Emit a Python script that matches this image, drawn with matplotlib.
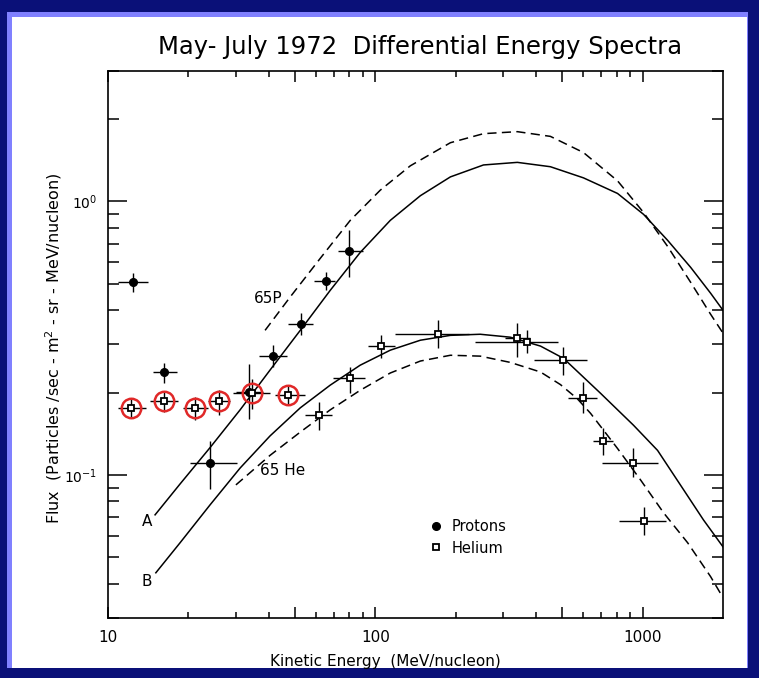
import matplotlib
matplotlib.use('Agg')
import matplotlib.pyplot as plt
from matplotlib.patches import Rectangle
from matplotlib.ticker import FixedLocator, NullFormatter

plt.rcParams['font.family'] = 'DejaVu Sans'

# ---- measured points (kinetic energy MeV/nucleon, flux) ----
p_energy = [12.4, 16.2, 24.1, 33.7, 41.5, 52.9, 65.5, 80.0]
p_flux = [0.506, 0.238, 0.111, 0.201, 0.272, 0.356, 0.511, 0.657]
p_e_lo = [10.9, 14.7, 20.3, 30.0, 36.8, 47.2, 59.1, 72.6]
p_e_hi = [14.1, 18.1, 30.4, 38.0, 46.8, 58.6, 70.8, 90.2]
p_f_lo = [0.466, 0.217, 0.0889, 0.160, 0.248, 0.324, 0.473, 0.528]
p_f_hi = [0.546, 0.256, 0.133, 0.255, 0.298, 0.390, 0.551, 0.784]

he_energy = [12.2, 16.2, 21.2, 26.1, 34.6, 47.2, 61.6, 80.5, 105, 171, 340, 371,
             506, 601, 714, 918, 1010]
he_flux = [0.176, 0.186, 0.176, 0.186, 0.199, 0.196, 0.166, 0.226, 0.296, 0.327,
           0.316, 0.306, 0.263, 0.191, 0.133, 0.111, 0.068]
he_e_lo = [10.9, 14.4, 19.1, 23.7, 29.4, 42.2, 54.7, 69.6, 94.2, 119, 305, 237,
           391, 528, 650, 708, 813]
he_e_hi = [13.9, 18.3, 23.7, 28.6, 40.4, 54.7, 69.0, 91.7, 119, 225, 380, 484,
           622, 678, 778, 1138, 1219]
he_f_lo = [0.161, 0.170, 0.159, 0.166, 0.175, 0.180, 0.146, 0.199, 0.267, 0.291,
           0.270, 0.280, 0.232, 0.168, 0.118, 0.098, 0.0604]
he_f_hi = [0.191, 0.203, 0.193, 0.204, 0.225, 0.213, 0.185, 0.248, 0.324, 0.368,
           0.359, 0.340, 0.293, 0.218, 0.148, 0.126, 0.0764]
n_circled = 6  # low-energy helium points marked in red

# ---- model curves ----
a_energy = [15.0, 18.6, 24.1, 31.2, 40.4, 52.4, 67.8, 87.8, 113.8, 147.5, 191, 254,
            340, 452, 601, 806, 1009, 1241, 1514, 1797, 2000]
a_flux = [0.0715, 0.0927, 0.126, 0.173, 0.242, 0.338, 0.473, 0.651, 0.853, 1.05,
          1.23, 1.36, 1.39, 1.34, 1.22, 1.07, 0.897, 0.721, 0.574, 0.462, 0.400]

p65_energy = [38.7, 48.0, 62.2, 80.6, 104.4, 135.2, 191, 254, 340, 452, 601, 806,
              1009, 1241, 1514, 1797, 2000]
p65_flux = [0.338, 0.447, 0.619, 0.853, 1.10, 1.35, 1.64, 1.77, 1.80, 1.73, 1.51,
            1.19, 0.911, 0.685, 0.506, 0.387, 0.330]

b_energy = [15.1, 18.6, 24.1, 31.2, 40.4, 52.4, 67.8, 87.8, 113.8, 147.5, 191, 247,
            320, 415, 506, 696, 925, 1138, 1425, 1690, 2000]
b_flux = [0.0439, 0.0565, 0.0778, 0.106, 0.139, 0.176, 0.213, 0.252, 0.286, 0.311,
          0.324, 0.327, 0.319, 0.296, 0.267, 0.199, 0.152, 0.123, 0.0882, 0.0685,
          0.0546]

he65_energy = [30.1, 40.4, 52.4, 67.8, 87.8, 113.8, 147.5, 191, 247, 320, 415, 493,
               570, 639, 806, 983, 1199, 1475, 1797, 2000]
he65_flux = [0.0920, 0.118, 0.1435, 0.173, 0.204, 0.236, 0.261, 0.274, 0.272,
             0.258, 0.238, 0.214, 0.190, 0.168, 0.125, 0.0959, 0.0727, 0.0565,
             0.0425, 0.0356]

fig = plt.figure(figsize=(7.59, 6.78), dpi=100)
fig.patch.set_facecolor('#0a1078')
fig.patches.append(Rectangle((7 / 759, 10 / 678), 741 / 759, 656 / 678,
                             transform=fig.transFigure, facecolor='#8080ff',
                             edgecolor='none', zorder=-2))
fig.patches.append(Rectangle((12 / 759, 10 / 678), 735 / 759, 651 / 678,
                             transform=fig.transFigure, facecolor='white',
                             edgecolor='none', zorder=-1))

ax = fig.add_axes([0.1423, 0.0885, 0.8103, 0.8068])
ax.set_facecolor('white')
ax.set_xscale('log')
ax.set_yscale('log')
ax.set_xlim(10, 2000)
ax.set_ylim(0.03, 3)

dash = (0, (6, 3.5))
ax.plot(a_energy, a_flux, color='black', lw=1.1)
ax.plot(p65_energy, p65_flux, color='black', lw=1.1, linestyle=dash)
ax.plot(b_energy, b_flux, color='black', lw=1.1)
ax.plot(he65_energy, he65_flux, color='black', lw=1.1, linestyle=dash)


def asym(vals, lo, hi):
    return [[v - l for v, l in zip(vals, lo)], [h - v for v, h in zip(vals, hi)]]


ax.errorbar(p_energy, p_flux, xerr=asym(p_energy, p_e_lo, p_e_hi),
            yerr=asym(p_flux, p_f_lo, p_f_hi), fmt='none', ecolor='black',
            elinewidth=1.0, capsize=0)
ax.errorbar(he_energy, he_flux, xerr=asym(he_energy, he_e_lo, he_e_hi),
            yerr=asym(he_flux, he_f_lo, he_f_hi), fmt='none', ecolor='black',
            elinewidth=1.0, capsize=0)

ax.plot(he_energy[:n_circled], he_flux[:n_circled], 'o', ms=14, mfc='none',
        mec='#e02828', mew=1.8, zorder=4)
ax.plot(p_energy, p_flux, 'o', ms=5.5, color='black', zorder=5, label='Protons')
ax.plot(he_energy, he_flux, 's', ms=5, mfc='white', mec='black', mew=1.3,
        zorder=6, label='Helium')

ax.text(14.0, 0.0674, 'A', fontsize=11, ha='center', va='center')
ax.text(14.0, 0.0407, 'B', fontsize=11, ha='center', va='center')
ax.text(39.7, 0.443, '65P', fontsize=11, ha='center', va='center')
ax.text(45.2, 0.104, '65 He', fontsize=11, ha='center', va='center')

leg = ax.legend(loc='upper left', bbox_to_anchor=(0.50, 0.205), frameon=False,
                fontsize=10.5, handlelength=1.0, handletextpad=0.6,
                labelspacing=0.45)

# ticks on all four sides, pointing inward
ax.xaxis.set_major_locator(FixedLocator([10, 50, 100, 500, 1000]))
ax.set_xticklabels(['10', '', '100', '', '1000'])
ax.xaxis.set_minor_locator(FixedLocator([20, 30, 40, 60, 70, 80, 90,
                                         200, 300, 400, 600, 700, 800, 900]))
ax.xaxis.set_minor_formatter(NullFormatter())
ax.yaxis.set_major_locator(FixedLocator([0.1, 1]))
ax.set_yticklabels(['$10^{-1}$', '$10^{0}$'])
ax.yaxis.set_minor_locator(FixedLocator([0.03, 0.04, 0.05, 0.06, 0.07, 0.08, 0.09,
                                         0.2, 0.3, 0.4, 0.5, 0.6, 0.7, 0.8, 0.9,
                                         2, 3]))
ax.yaxis.set_minor_formatter(NullFormatter())

ax.tick_params(which='both', direction='in', top=True, right=True, width=1.1,
               labelsize=11)
ax.tick_params(axis='x', which='major', length=8, pad=9)
ax.tick_params(axis='x', which='minor', length=4.5)
ax.tick_params(axis='y', which='major', length=14, pad=8, labelsize=10)
ax.tick_params(axis='y', which='minor', length=8)
for s in ax.spines.values():
    s.set_linewidth(1.2)

fig.text(0.553, 0.931, 'May- July 1972  Differential Energy Spectra',
         fontsize=17.5, ha='center', va='center')
fig.text(0.508, 0.024, 'Kinetic Energy  (MeV/nucleon)', fontsize=11,
         ha='center', va='center')
fig.text(0.071, 0.487, 'Flux  (Particles /sec - m$^2$ - sr - MeV/nucleon)',
         fontsize=11.5, rotation=90, ha='center', va='center')

fig.savefig('out.png', dpi=100, facecolor=fig.get_facecolor())
